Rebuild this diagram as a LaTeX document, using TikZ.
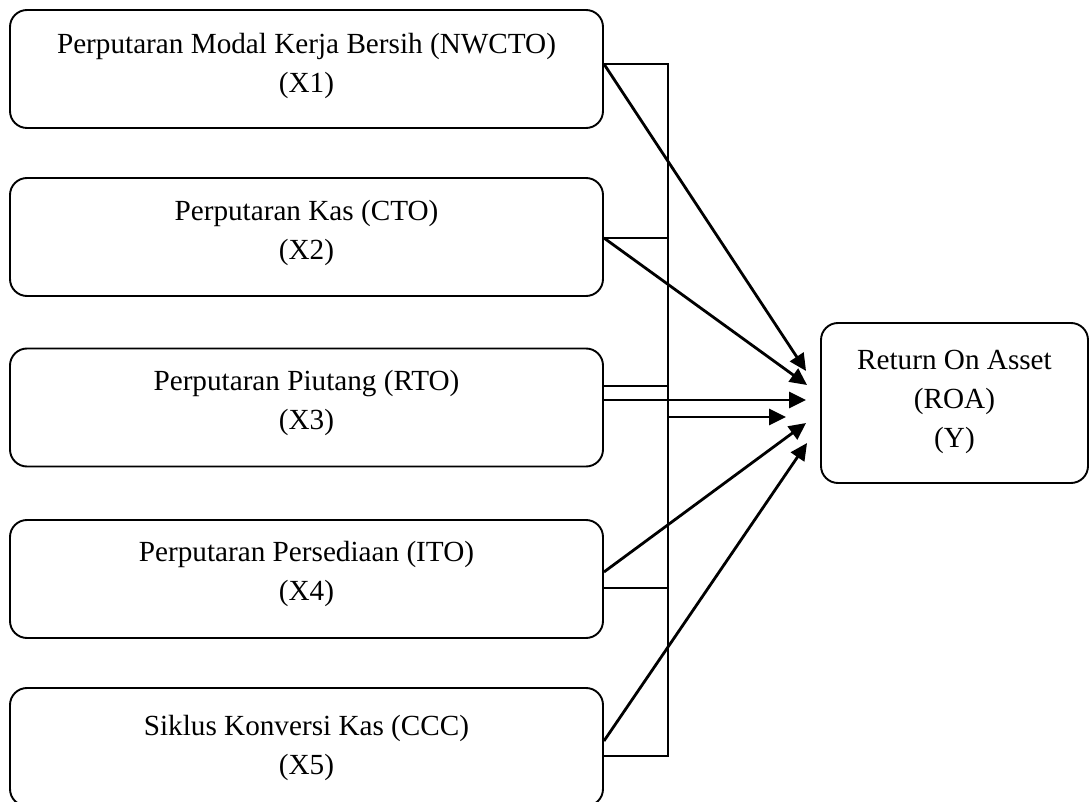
\documentclass[tikz,border=0pt]{standalone}
\usepackage{fontspec}
\setmainfont{Liberation Serif}
\usetikzlibrary{arrows.meta,calc}
\begin{document}
\begin{tikzpicture}[x=0.5pt,y=-0.5pt,
  box/.style={draw, line width=0.95pt, rounded corners=8.5pt, minimum width=296.5pt, minimum height=59pt, inner sep=0pt},
  roabox/.style={box, minimum width=133.5pt, minimum height=80pt},
  txt/.style={align=center, font=\fontsize{14.6}{19.5}\selectfont, inner sep=0pt},
  thinline/.style={line width=0.8pt},
  arr/.style={line width=1.4pt, -{Triangle[length=8.5pt,width=8pt]}}]
\useasboundingbox (0,0) rectangle (1089,802);
% left boxes
\node[box] (b1) at (306.5,69) {};
\node[box] (b2) at (306.5,237) {};
\node[box] (b3) at (306.5,407.5) {};
\node[box] (b4) at (306.5,579) {};
\node[box] (b5) at (306.5,747) {};
\node[roabox] (roa) at (954.5,403) {};
% texts
\node[txt] (t1) at ([yshift=1.5pt]b1.center) {Perputaran Modal Kerja Bersih (NWCTO)\\(X1)};
\node[txt] (t2) at ([yshift=2pt]b2.center) {Perputaran Kas (CTO)\\(X2)};
\node[txt] (t3) at ([yshift=2.5pt]b3.center) {Perputaran Piutang (RTO)\\(X3)};
\node[txt] (t4) at ([yshift=2.5pt]b4.center) {Perputaran Persediaan (ITO)\\(X4)};
\node[txt] (t5) at ([yshift=-0.5pt]b5.center) {Siklus Konversi Kas (CCC)\\(X5)};
\node[txt] (ty) at ([yshift=0.5pt]roa.center) {Return On Asset\\(ROA)\\(Y)};
% connection points on boxes
\coordinate (o1) at ($(b1.east)+(0,-5)$);
\coordinate (o2) at ($(b2.east)+(0,1)$);
\coordinate (s3) at ($(b3.east)+(0,-21.5)$);
\coordinate (o3) at ($(b3.east)+(0,-7.5)$);
\coordinate (o4) at ($(b4.east)+(0,-7)$);
\coordinate (s4) at ($(b4.east)+(0,9)$);
\coordinate (o5) at ($(b5.east)+(0,-6)$);
\coordinate (s5) at ($(b5.east)+(0,9)$);
\coordinate (bustop) at ($(o1)+(64,0)$);
\coordinate (busbot) at ($(s5)+(64,0)$);
\coordinate (h3) at ($(b3.east)+(64,9.5)$);
% arrow tips
\coordinate (e1) at ($(roa.west)+(-14,-32)$);
\coordinate (e2) at ($(roa.west)+(-13,-18)$);
\coordinate (e3) at ($(roa.west)+(-14,-3)$);
\coordinate (e4) at ($(roa.west)+(-34,14)$);
\coordinate (e5) at ($(roa.west)+(-14,20)$);
\coordinate (e6) at ($(roa.west)+(-13,40)$);
% thin bus lines
\draw[thinline] (o1) -- (bustop) -- (busbot) -- (s5);
\draw[thinline] (o2) -- ++(64,0);
\draw[thinline] (s3) -- ++(64,0);
\draw[thinline] (s4) -- ++(64,0);
% arrows
\draw[arr] (o1) -- (e1);
\draw[arr] (o2) -- (e2);
\draw[arr] (o3) -- (e3);
\draw[arr] (h3) -- (e4);
\draw[arr] (o4) -- (e5);
\draw[arr] (o5) -- (e6);
\end{tikzpicture}
\end{document}
